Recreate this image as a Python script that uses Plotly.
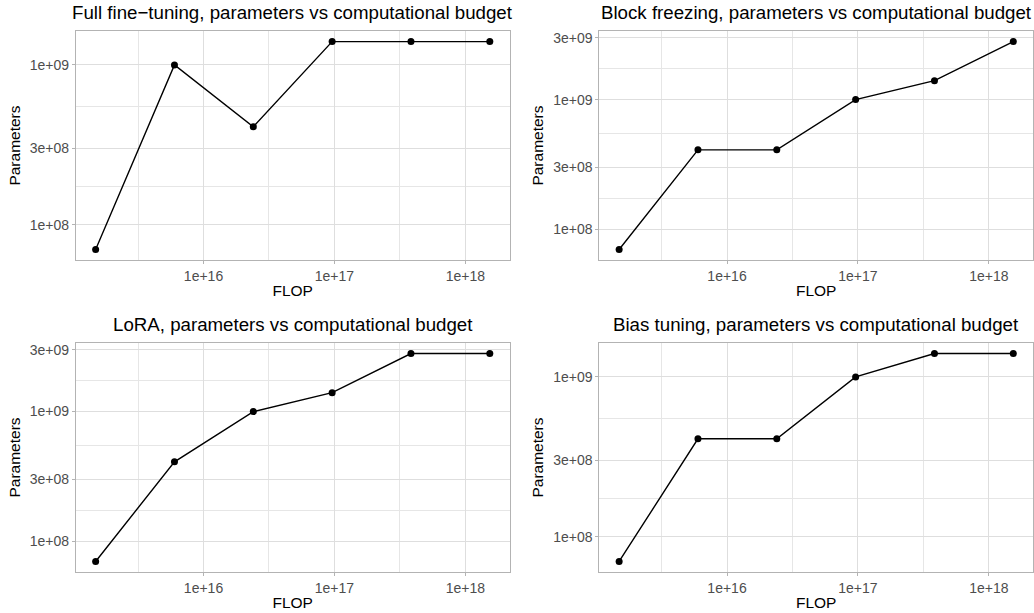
import plotly.graph_objects as go
import math

# ---- data ----
flop = [1.5e15, 6e15, 2.4e16, 9.6e16, 3.84e17, 1.536e18]
full_ft = [7e7, 1e9, 4.1e8, 1.4e9, 1.4e9, 1.4e9]
block_freeze = [7e7, 4.1e8, 4.1e8, 1e9, 1.4e9, 2.8e9]
lora = [7e7, 4.1e8, 1e9, 1.4e9, 2.8e9, 2.8e9]
bias_tuning = [7e7, 4.1e8, 4.1e8, 1e9, 1.4e9, 1.4e9]

titles = [
    "Full fine\u2212tuning, parameters vs computational budget",
    "Block freezing, parameters vs computational budget",
    "LoRA, parameters vs computational budget",
    "Bias tuning, parameters vs computational budget",
]

x_tickvals = [1e16, 1e17, 1e18]
x_ticktext = ["1e+16", "1e+17", "1e+18"]
x_minor = [10**15.5, 10**16.5, 10**17.5]
y_tickvals = [1e8, 3e8, 1e9, 3e9]
y_ticktext = ["1e+08", "3e+08", "1e+09", "3e+09"]
y_minor = [1.732e8, 5.477e8, 1.732e9]

series = [full_ft, block_freeze, lora, bias_tuning]

# ---- layout geometry (pixels) ----
W, H = 1034, 613
panels = [
    (76, 510, 29.3, 258.7),
    (600, 1034, 29.3, 258.7),
    (76, 510, 342.3, 571.7),
    (600, 1034, 342.3, 571.7),
]

FONT = "Liberation Sans, Arial, sans-serif"

fig = go.Figure()
layout = dict(
    width=W, height=H,
    margin=dict(l=0, r=0, t=0, b=0),
    paper_bgcolor="white", plot_bgcolor="white",
    showlegend=False,
    font=dict(family=FONT, color="black"),
    annotations=[],
)


def log_range(vals):
    lo, hi = math.log10(min(vals)), math.log10(max(vals))
    pad = (hi - lo) * 0.05
    return [lo - pad, hi + pad]


xr = log_range(flop)
for i, (ys, (x0, x1, ytop, ybot)) in enumerate(zip(series, panels)):
    n = i + 1
    xa = "x" if n == 1 else f"x{n}"
    ya = "y" if n == 1 else f"y{n}"
    fig.add_trace(go.Scatter(
        x=flop, y=ys, xaxis=xa, yaxis=ya, mode="lines+markers",
        line=dict(color="black", width=1.4),
        marker=dict(color="black", size=7),
        cliponaxis=False,
    ))
    yr = log_range(ys)
    common = dict(
        type="log", showline=True, mirror=True, linecolor="#B3B3B3", linewidth=1,
        showgrid=True, gridcolor="#DEDEDE", gridwidth=1,
        ticks="outside", ticklen=3, tickcolor="#B3B3B3", tickwidth=1,
        tickfont=dict(family=FONT, size=14, color="#4D4D4D"),
        tickmode="array", zeroline=False,
        title_font=dict(family=FONT, size=15.5, color="black"),
    )
    layout[f"xaxis{'' if n == 1 else n}"] = dict(
        common,
        domain=[x0 / W, x1 / W], anchor=ya, range=xr,
        tickvals=x_tickvals, ticktext=x_ticktext,
        minor=dict(tickmode="array", tickvals=x_minor, showgrid=True,
                   gridcolor="#E6E6E6", gridwidth=0.6, ticklen=0),
        title=dict(text="FLOP", standoff=2),
    )
    layout[f"yaxis{'' if n == 1 else n}"] = dict(
        common,
        domain=[(H - ybot) / H, (H - ytop) / H], anchor=xa, range=yr,
        tickvals=y_tickvals, ticktext=y_ticktext,
        ticklabelstandoff=0,
        minor=dict(tickmode="array", tickvals=y_minor, showgrid=True,
                   gridcolor="#E6E6E6", gridwidth=0.6, ticklen=0),
        title=dict(text="Parameters", standoff=5),
    )
    layout["annotations"].append(dict(
        text=titles[i], xref="paper", yref="paper",
        x=(x0 + x1) / 2 / W, y=(H - ytop + 6) / H,
        xanchor="center", yanchor="bottom", showarrow=False,
        font=dict(family=FONT, size=18.7, color="black"),
    ))

fig.update_layout(**layout)
fig.write_html(
    "out.html",
    config={"displayModeBar": False},
    post_script="document.body.style.margin='0px';document.body.style.overflow='hidden';",
)
